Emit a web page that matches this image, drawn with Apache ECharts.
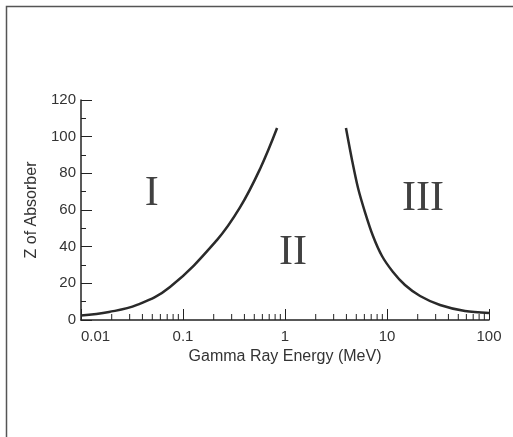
<!DOCTYPE html>
<html>
<head>
<meta charset="utf-8">
<script src="https://cdn.jsdelivr.net/npm/echarts@6/dist/echarts.min.js"></script>
<style>
html,body{margin:0;padding:0;background:#fff;}
#chart{width:513px;height:437px;}
</style>
</head>
<body>
<div id="chart"></div>
<script>
// curves: [energy MeV, Z]
var photoCompton = [[0.01, 2.45], [0.0188, 4.4], [0.0354, 8.2], [0.0746, 18], [0.215, 43.6],
    [0.362, 61.4], [0.569, 82.4], [0.836, 104.7]];
var comptonPair = [[3.96, 104.7], [4.54, 87.3], [5.2, 72], [6.08, 58.9], [7.29, 45.8],
    [8.93, 34.9], [11.45, 26.2], [15, 19.1], [21.1, 13.1], [33.1, 8.2], [58.2, 4.9], [100, 3.8]];
var regionLabels = [[0.0493, 69, 'I'], [1.2, 36.5, 'II'], [22.5, 66, 'III']];
var xTickLabels = ['0.01', '0.1', '1', '10', '100'];

// minor ticks 2..9 in every decade
var minorTicks = [];
[0.01, 0.1, 1, 10].forEach(function (d) {
    for (var k = 2; k <= 9; k++) {
        minorTicks.push([+(d * k).toPrecision(3), 0]);
    }
});

var myChart = echarts.init(document.getElementById('chart'));
var axisFont = 'Liberation Sans, Arial, sans-serif';

option = {
    animation: false,
    graphic: [{
        type: 'rect',
        shape: {x: 6.5, y: 6.5, width: 700, height: 700},
        style: {fill: 'none', stroke: '#555', lineWidth: 1.5}
    }],
    grid: {left: 81, right: 24, top: 100, bottom: 117},
    xAxis: {
        type: 'log',
        logBase: 10,
        min: 0.01,
        max: 100,
        name: 'Gamma Ray Energy (MeV)',
        nameLocation: 'middle',
        nameGap: 25,
        nameTextStyle: {fontFamily: axisFont, fontSize: 16, color: '#333'},
        axisLine: {lineStyle: {color: '#222', width: 1.5}},
        axisTick: {inside: true, length: 11, lineStyle: {color: '#222'}},
        axisLabel: {
            fontFamily: axisFont, fontSize: 15, color: '#333', margin: 9,
            alignMinLabel: 'left',
            formatter: function (v) {
                var s = String(+v.toPrecision(3));
                return xTickLabels.indexOf(s) >= 0 ? s : '';
            }
        },
        splitLine: {show: false}
    },
    yAxis: {
        type: 'value',
        min: 0,
        max: 120,
        interval: 20,
        name: 'Z of Absorber',
        nameLocation: 'middle',
        nameGap: 37,
        nameTextStyle: {fontFamily: axisFont, fontSize: 16, color: '#333'},
        axisLine: {show: true, lineStyle: {color: '#222', width: 1.5}},
        axisTick: {show: true, inside: true, length: 11, lineStyle: {color: '#222'}},
        minorTick: {show: true, splitNumber: 2, length: 5, lineStyle: {color: '#222'}},
        axisLabel: {fontFamily: axisFont, fontSize: 15, color: '#333', margin: 5},
        splitLine: {show: false}
    },
    series: [
        {
            type: 'line',
            data: photoCompton,
            smooth: 0.4,
            showSymbol: false,
            lineStyle: {color: '#2a2a2a', width: 2.5}
        },
        {
            type: 'line',
            data: comptonPair,
            smooth: 0.3,
            showSymbol: false,
            lineStyle: {color: '#2a2a2a', width: 2.5}
        },
        {
            type: 'custom',
            data: minorTicks,
            clip: false,
            silent: true,
            renderItem: function (params, api) {
                var p = api.coord([api.value(0), 0]);
                return {
                    type: 'line',
                    shape: {x1: p[0], y1: p[1], x2: p[0], y2: p[1] - 6},
                    style: {stroke: '#222', lineWidth: 1}
                };
            }
        },
        {
            type: 'scatter',
            data: regionLabels,
            symbolSize: 0,
            silent: true,
            label: {
                show: true,
                position: 'inside',
                formatter: function (p) { return p.data[2]; },
                fontFamily: 'Liberation Serif, Times New Roman, serif',
                fontSize: 42,
                color: '#111'
            }
        }
    ]
};

myChart.setOption(option);
</script>
</body>
</html>
